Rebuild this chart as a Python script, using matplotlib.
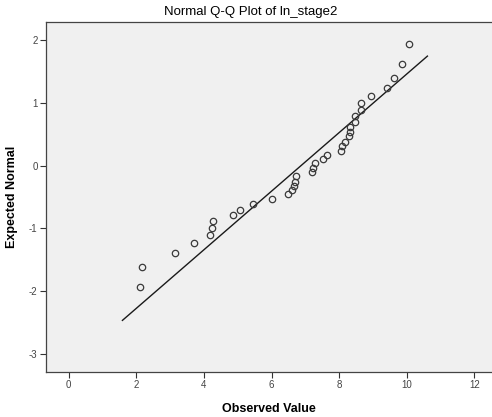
import numpy as np
import matplotlib
matplotlib.use('Agg')
import matplotlib.pyplot as plt

plt.rcParams['font.family'] = ['Liberation Sans', 'DejaVu Sans']
plt.rcParams['axes.unicode_minus'] = False

observed = [2.10, 2.17, 3.14, 3.70, 4.17, 4.23, 4.27, 4.85, 5.06, 5.45,
            6.02, 6.48, 6.61, 6.67, 6.70, 6.73, 7.19, 7.22, 7.30, 7.52,
            7.65, 8.04, 8.09, 8.17, 8.30, 8.31, 8.32, 8.47, 8.48, 8.64,
            8.65, 8.94, 9.42, 9.62, 9.87, 10.08]
expected = [-1.94, -1.61, -1.40, -1.24, -1.11, -0.99, -0.89, -0.79, -0.70, -0.61,
            -0.53, -0.45, -0.38, -0.32, -0.26, -0.17, -0.105, -0.04, 0.04, 0.10,
            0.17, 0.24, 0.31, 0.38, 0.47, 0.53, 0.62, 0.70, 0.79, 0.89,
            1.00, 1.11, 1.24, 1.40, 1.62, 1.94]

# reference line: expected = (x - mean) / sd
line_mean = 6.87
line_sd = 2.14
line_x = [1.59, 10.61]

x_ticks = [0, 2, 4, 6, 8, 10, 12]
y_ticks = [-3, -2, -1, 0, 1, 2]

fig = plt.figure(figsize=(4.92, 4.17), dpi=100)
ax = fig.add_axes([0.0935, 0.108, 0.9065, 0.839])
ax.set_facecolor('#f0f0f0')

lx = np.array(line_x)
ax.plot(lx, (lx - line_mean) / line_sd, color='#1a1a1a', linewidth=1.0, zorder=2)
ax.plot(observed, expected, linestyle='none', marker='o', markersize=4.6,
        markerfacecolor='none', markeredgecolor='#3a3a3a', markeredgewidth=0.9, zorder=3)

ax.set_xlim(-0.67, 12.52)
ax.set_ylim(-3.29, 2.29)
ax.set_xticks(x_ticks)
ax.set_yticks(y_ticks)
ax.tick_params(direction='out', length=4, width=0.8, color='#333333',
               labelsize=7, labelcolor='#444444', pad=2)

for side in ['left', 'bottom', 'top']:
    ax.spines[side].set_color('#444444')
    ax.spines[side].set_linewidth(0.9)
ax.spines['right'].set_visible(False)

ax.set_xlabel('Observed Value', fontsize=9, fontweight='bold', labelpad=9)
ax.set_ylabel('Expected Normal', fontsize=9, fontweight='bold')
ax.yaxis.set_label_coords(-0.063, 0.5)
fig.text(0.51, 0.971, 'Normal Q-Q Plot of ln_stage2', fontsize=9.5,
         ha='center', va='center')

fig.savefig('out.png', dpi=100)
